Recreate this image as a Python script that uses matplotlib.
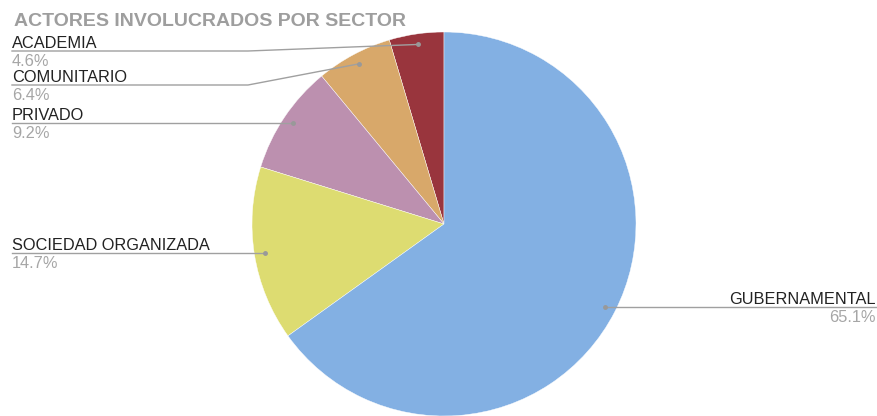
import numpy as np
import matplotlib.pyplot as plt

plt.rcParams['font.family'] = ['Liberation Sans', 'DejaVu Sans']

# Datos: participación de actores por sector (%)
sectores = ['ACADEMIA', 'COMUNITARIO', 'PRIVADO', 'SOCIEDAD ORGANIZADA', 'GUBERNAMENTAL']
porcentajes = [4.6, 6.4, 9.2, 14.7, 65.1]
colores = ['#99353d', '#d8a86a', '#bc90af', '#dddc71', '#83b0e3']

# Altura (px desde arriba) de la línea guía de cada etiqueta; None = altura del punto
linea_y = [51, 85, None, None, None]
codo_x = [248, 248, None, None, None]

W, H = 878, 416
fig = plt.figure(figsize=(W / 100, H / 100), dpi=100)
ax = fig.add_axes([0, 0, 1, 1])

cx, cy, r = 444, H - 224, 192
ax.pie(porcentajes, colors=colores, startangle=90, counterclock=True,
       center=(cx, cy), radius=r,
       wedgeprops=dict(edgecolor='white', linewidth=0.3))
ax.set_xlim(0, W)
ax.set_ylim(0, H)
ax.set_aspect('equal')
ax.axis('off')

# Líneas guía y etiquetas
inicio = 90.0
for i, (nombre, p) in enumerate(zip(sectores, porcentajes)):
    medio = np.deg2rad(inicio + p * 1.8)
    inicio += p * 3.6
    px = cx + 0.945 * r * np.cos(medio)
    py = cy + 0.945 * r * np.sin(medio)
    ly = H - linea_y[i] if linea_y[i] is not None else py
    ax.plot([px], [py], 'o', color='#999999', markersize=2.5, zorder=5)
    if px < cx:
        xs = [px]
        ys = [py]
        if codo_x[i] is not None:
            xs.append(codo_x[i])
            ys.append(ly)
        xs.append(12)
        ys.append(ly)
        ax.plot(xs, ys, color='#a0a0a0', lw=1, zorder=4)
        tx, ha = 12, 'left'
    else:
        ax.plot([px, W], [ly, ly], color='#a0a0a0', lw=1, zorder=4)
        tx, ha = W - 2, 'right'
    ax.text(tx, ly + 3, nombre, ha=ha, va='baseline', fontsize=11.8, color='#222222')
    ax.text(tx, ly - 3, f'{p:.1f}%', ha=ha, va='top', fontsize=11.8, color='#a6a6a6')

fig.text(14 / W, 1 - 26 / H, 'ACTORES INVOLUCRADOS POR SECTOR', ha='left', va='baseline',
         fontsize=14, fontweight='bold', color='#9e9e9e')

fig.savefig('out.png', dpi=100)
